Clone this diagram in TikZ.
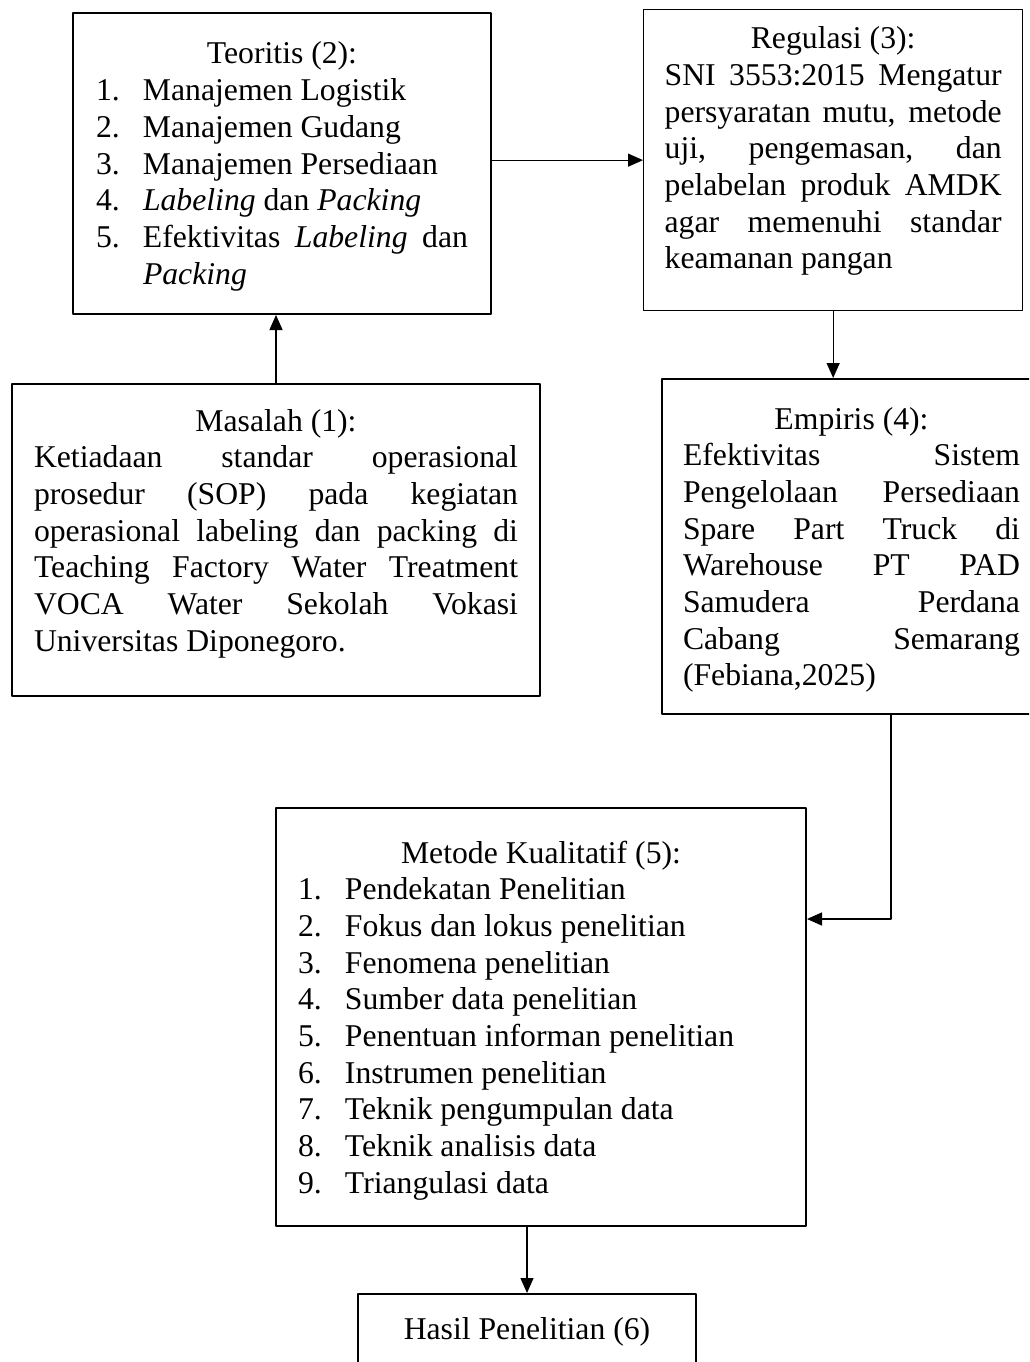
\documentclass[tikz,border=0pt]{standalone}
\usepackage{fontspec}
\setmainfont{Liberation Serif}
\usetikzlibrary{arrows.meta}
\newcommand{\boxtitle}[1]{\makebox[\linewidth]{#1}\par}
\newcommand{\listline}[2]{\hangindent=47pt\hangafter=1\noindent\makebox[47pt][l]{#1}#2\par}
\begin{document}
\begin{tikzpicture}[x=1pt,y=-1pt,>={Triangle[length=15pt,width=13pt]},line join=round,
panel/.style={draw,line width=2pt,anchor=north west,inner ysep=0pt,inner xsep=22pt,align=justify,
 font=\fontsize{31.7pt}{36.7pt}\selectfont,
 execute at begin node={\hyphenpenalty=10000\tolerance=10000}},
link/.style={->,line width=1.3pt}]
\path[use as bounding box,clip] (0,0) rectangle (1029,1362);
\node[panel,inner xsep=23pt,text width=372pt,text height=51pt,text depth=250pt] (teoritis) at (72,12)
 {\boxtitle{Teoritis (2):}
 \listline{1.}{Manajemen Logistik}
 \listline{2.}{Manajemen Gudang}
 \listline{3.}{Manajemen Persediaan}
 \listline{4.}{\textit{Labeling} dan \textit{Packing}}
 \listline{5.}{Efektivitas \textit{Labeling} dan\linebreak \textit{Packing}}};
\node[panel,line width=1.3pt,inner xsep=21pt,text width=337pt,text height=39pt,text depth=262pt] (regulasi) at (643,9)
 {\boxtitle{Regulasi (3):}
 SNI 3553:2015 Mengatur\linebreak persyaratan mutu, metode\linebreak uji, pengemasan, dan\linebreak
 pelabelan produk AMDK\linebreak agar memenuhi standar\linebreak keamanan pangan};
\node[panel,text width=484pt,text height=47pt,text depth=265pt] (masalah) at (11,383)
 {\boxtitle{Masalah (1):}
 Ketiadaan standar operasional\linebreak prosedur (SOP) pada kegiatan\linebreak
 operasional labeling dan packing di\linebreak Teaching Factory Water Treatment\linebreak
 VOCA Water Sekolah Vokasi\linebreak Universitas Diponegoro.};
\node[panel,inner xsep=21pt,text width=337pt,text height=50pt,text depth=285pt] (empiris) at (661,378)
 {\boxtitle{Empiris (4):}
 Efektivitas Sistem\linebreak Pengelolaan Persediaan\linebreak Spare Part Truck di\linebreak
 Warehouse PT PAD\linebreak Samudera Perdana\linebreak Cabang Semarang\linebreak (Febiana,2025)};
\node[panel,text width=486pt,text height=55pt,text depth=363pt] (metode) at (275,807)
 {\boxtitle{Metode Kualitatif (5):}
 \listline{1.}{Pendekatan Penelitian}
 \listline{2.}{Fokus dan lokus penelitian}
 \listline{3.}{Fenomena penelitian}
 \listline{4.}{Sumber data penelitian}
 \listline{5.}{Penentuan informan penelitian}
 \listline{6.}{Instrumen penelitian}
 \listline{7.}{Teknik pengumpulan data}
 \listline{8.}{Teknik analisis data}
 \listline{9.}{Triangulasi data}};
\node[panel,text width=294pt,text height=45pt,text depth=120pt] (hasil) at (357,1293)
 {\boxtitle{Hasil Penelitian (6)}};
\coordinate (bend) at (891,919);
\draw[link] (masalah.north) -- (masalah.north |- teoritis.south);
\draw[link] (teoritis.east |- regulasi.west) -- (regulasi.west);
\draw[link] (regulasi.south) -- (regulasi.south |- empiris.north);
\draw[link] (empiris.south -| bend) -- (bend) -- (bend -| metode.east);
\draw[link] (hasil.north |- metode.south) -- (hasil.north);
\end{tikzpicture}
\end{document}
